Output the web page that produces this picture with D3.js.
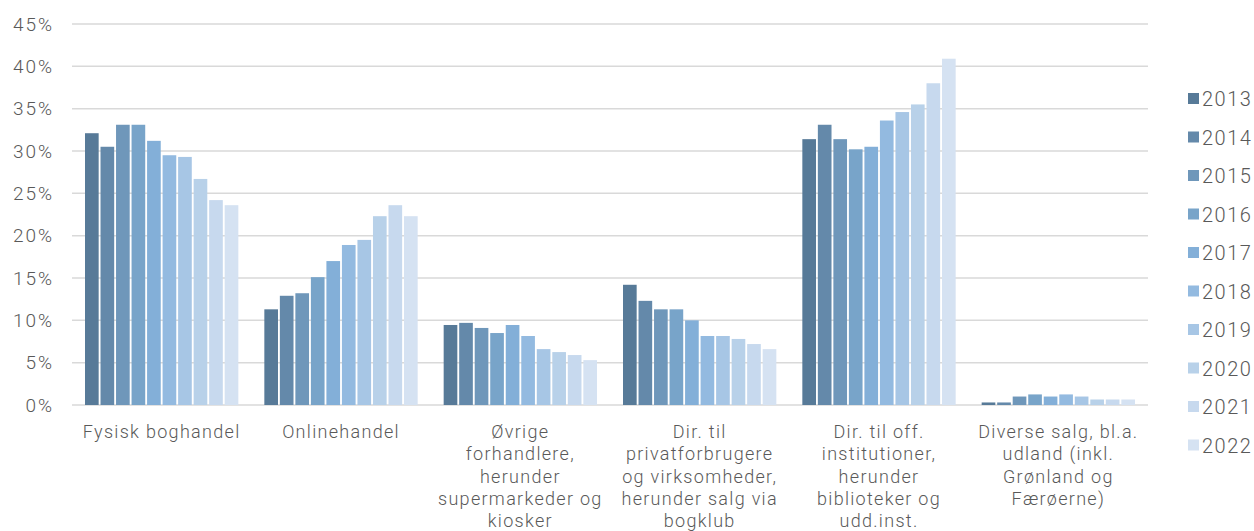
<!DOCTYPE html>
<html>
<head>
<meta charset="utf-8">
<script src="https://cdn.jsdelivr.net/npm/d3@7"></script>
<style>
  body { margin: 0; background: #fff; }
  svg text { font-family: Roboto, "Liberation Sans", sans-serif; font-weight: 300; fill: #595959; }
</style>
</head>
<body>
<div id="chart"></div>
<script>
"use strict";

const categories = [
    ['Fysisk boghandel'],
    ['Onlinehandel'],
    ['Øvrige', 'forhandlere,', 'herunder', 'supermarkeder og', 'kiosker'],
    ['Dir. til', 'privatforbrugere', 'og virksomheder,', 'herunder salg via', 'bogklub'],
    ['Dir. til off.', 'institutioner,', 'herunder', 'biblioteker og', 'udd.inst.'],
    ['Diverse salg, bl.a.', 'udland (inkl.', 'Grønland og', 'Færøerne)']
];
const years = ['2013', '2014', '2015', '2016', '2017', '2018', '2019', '2020', '2021', '2022'];
const yearColors = ['#577a98', '#6489aa', '#6f97ba', '#78a4c9', '#83afd8', '#93bae0', '#a7c6e5', '#b8d1e9', '#c7d9ee', '#d5e2f2'];

// share per category, one array per year
const v2013 = [32.1, 11.3, 9.45, 14.2, 31.4, 0.3];
const v2014 = [30.5, 12.9, 9.7, 12.3, 33.1, 0.3];
const v2015 = [33.1, 13.2, 9.1, 11.3, 31.4, 1.0];
const v2016 = [33.1, 15.1, 8.5, 11.3, 30.2, 1.25];
const v2017 = [31.2, 17.0, 9.45, 10.0, 30.5, 1.0];
const v2018 = [29.5, 18.9, 8.15, 8.15, 33.6, 1.25];
const v2019 = [29.3, 19.5, 6.6, 8.15, 34.6, 1.0];
const v2020 = [26.7, 22.3, 6.25, 7.8, 35.5, 0.65];
const v2021 = [24.2, 23.6, 5.9, 7.2, 38.0, 0.65];
const v2022 = [23.6, 22.3, 5.3, 6.6, 40.9, 0.65];
const series = [v2013, v2014, v2015, v2016, v2017, v2018, v2019, v2020, v2021, v2022];

const yTicks = [0, 5, 10, 15, 20, 25, 30, 35, 40, 45];

const W = 1254, H = 531;
const svg = d3.select('#chart').append('svg').attr('width', W).attr('height', H);

const plotL = 72, plotR = 1148, plotT = 24, plotB = 405;

const x0 = d3.scaleBand().domain(d3.range(categories.length)).range([plotL, plotR])
             .paddingInner(0.145).paddingOuter(0.0725);
const x1 = d3.scaleBand().domain(years).range([0, x0.bandwidth()]).paddingInner(0.12);
const y = d3.scaleLinear().domain([0, 45]).range([plotB, plotT]);

// grid
svg.append('g').selectAll('line').data(yTicks).enter().append('line')
   .attr('x1', plotL).attr('x2', plotR)
   .attr('y1', d => y(d)).attr('y2', d => y(d))
   .attr('stroke', '#d9d9d9').attr('stroke-width', 1.5);

// y labels
svg.append('g').selectAll('text').data(yTicks).enter().append('text')
   .attr('x', 54).attr('y', d => y(d)).attr('dy', '0.35em')
   .attr('text-anchor', 'end').style('font-size', '19px').style('letter-spacing', '2px')
   .text(d => d + '%');

// bars
const groups = svg.append('g').selectAll('g').data(categories).enter().append('g')
   .attr('transform', (d, i) => `translate(${x0(i)},0)`);

groups.selectAll('rect').data((d, i) => years.map((yr, k) => ({ yr: yr, k: k, v: series[k][i] })))
   .enter().append('rect')
   .attr('x', d => x1(d.yr)).attr('width', x1.bandwidth())
   .attr('y', d => y(d.v)).attr('height', d => y(0) - y(d.v))
   .attr('fill', d => yearColors[d.k]);

// x labels
const xl = svg.append('g').selectAll('text').data(categories).enter().append('text')
   .attr('text-anchor', 'middle').style('font-size', '18px').style('letter-spacing', '1.3px')
   .attr('transform', (d, i) => `translate(${x0(i) + x0.bandwidth() / 2},438)`);
xl.selectAll('tspan').data(d => d).enter().append('tspan')
   .attr('x', 0).attr('dy', (d, i) => i === 0 ? 0 : 22.3)
   .text(d => d);

// legend
const leg = svg.append('g').selectAll('g').data(years).enter().append('g')
   .attr('transform', (d, i) => `translate(1188,${99 + i * 38.5})`);
leg.append('rect').attr('x', 0).attr('y', -6).attr('width', 11).attr('height', 11)
   .attr('fill', (d, i) => yearColors[i]);
leg.append('text').attr('x', 14).attr('y', 0).attr('dy', '0.36em')
   .style('font-size', '20px').style('letter-spacing', '1.5px').text(d => d);
</script>
</body>
</html>
